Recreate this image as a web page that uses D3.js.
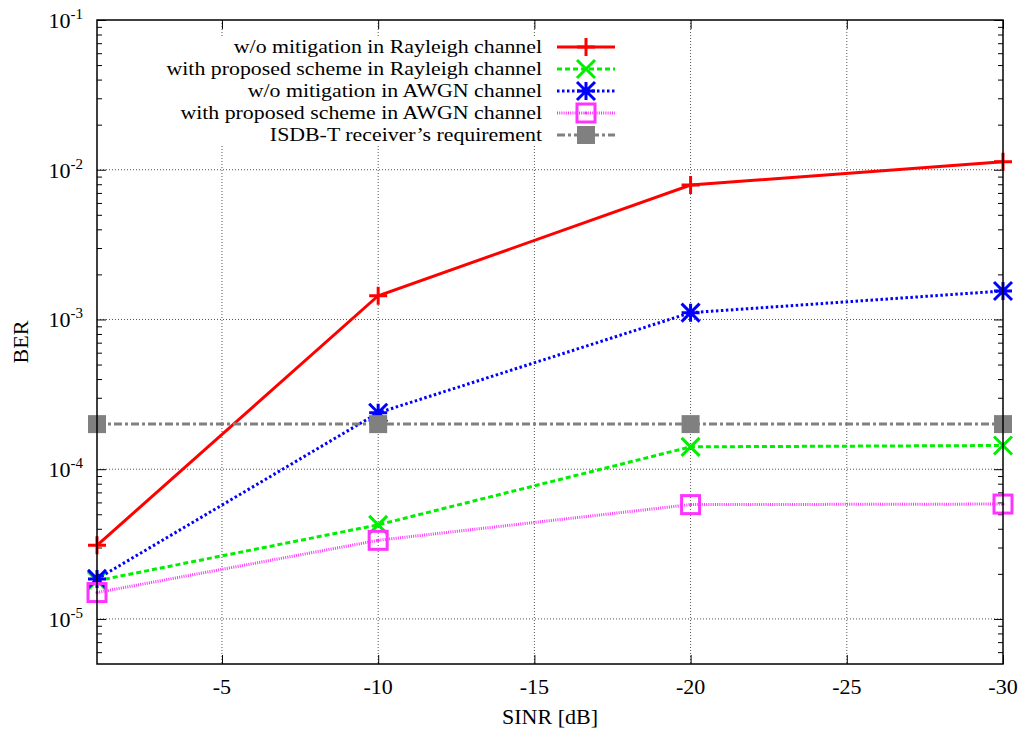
<!DOCTYPE html>
<html>
<head>
<meta charset="utf-8">
<script src="https://cdn.jsdelivr.net/npm/d3@7"></script>
<style>
  body { margin: 0; background: #fff; }
  svg text { font-family: "Liberation Serif", "Times New Roman", serif; fill: #000; }
</style>
</head>
<body>
<script>
// chart data
var sinr = [-1, -10, -20, -30];
var rayleighNoMit = [3.1e-5, 1.44e-3, 7.9e-3, 1.13e-2];
var rayleighProposed = [1.8e-5, 4.25e-5, 1.41e-4, 1.44e-4];
var awgnNoMit = [1.85e-5, 2.38e-4, 1.11e-3, 1.55e-3];
var awgnProposed = [1.5e-5, 3.35e-5, 5.8e-5, 5.85e-5];
var isdbRequirement = [2e-4, 2e-4, 2e-4, 2e-4];

var seriesNames = [
  "w/o mitigation in Rayleigh channel",
  "with proposed scheme in Rayleigh channel",
  "w/o mitigation in AWGN channel",
  "with proposed scheme in AWGN channel",
  "ISDB-T receiver\u2019s requirement"
];
var xTicks = [-5, -10, -15, -20, -25, -30];
var yTickExps = [-5, -4, -3, -2, -1];

// svg area
var svgWidth = 1021;
var svgHeight = 731;
var margin = { top: 20, right: 18, bottom: 67, left: 97 };
var chartWidth = svgWidth - margin.left - margin.right;
var chartHeight = svgHeight - margin.top - margin.bottom;
var serif = "'Liberation Serif', 'Times New Roman', serif";

var svg = d3.select("body")
  .append("svg")
  .attr("width", svgWidth)
  .attr("height", svgHeight);

var chartGroup = svg.append("g")
  .attr("transform", `translate(${margin.left}, ${margin.top})`);

var xScale = d3.scaleLinear().domain([-1, -30]).range([0, chartWidth]);
var yScale = d3.scaleLog().domain([5e-6, 0.1]).range([chartHeight, 0]);

// grid
var gridGroup = chartGroup.append("g");
xTicks.filter(t => t !== -30).forEach(function(t) {
  gridGroup.append("line")
    .attr("x1", xScale(t)).attr("x2", xScale(t))
    .attr("y1", 0).attr("y2", chartHeight)
    .attr("stroke", "#555").attr("stroke-width", 1)
    .attr("stroke-dasharray", "1,2");
});
yTickExps.filter(e => e !== -1).forEach(function(e) {
  gridGroup.append("line")
    .attr("x1", 0).attr("x2", chartWidth)
    .attr("y1", yScale(Math.pow(10, e))).attr("y2", yScale(Math.pow(10, e)))
    .attr("stroke", "#555").attr("stroke-width", 1)
    .attr("stroke-dasharray", "1,2");
});

// axes with inward ticks on every side
var minorTicks = [];
for (var e = -6; e <= -2; e++) {
  for (var m = 2; m <= 9; m++) {
    var v = m * Math.pow(10, e);
    if (v >= 5e-6 && v <= 0.1) minorTicks.push(v);
  }
}
var majorVals = yTickExps.map(e => Math.pow(10, e));

function tickGroup(axis, tx, ty) {
  var g = chartGroup.append("g")
    .attr("transform", `translate(${tx},${ty})`)
    .call(axis.tickFormat(""));
  g.selectAll(".domain").remove();
  g.selectAll("line").attr("stroke", "#000");
  return g;
}
tickGroup(d3.axisLeft(yScale).tickValues(minorTicks).tickSize(-5), 0, 0);
tickGroup(d3.axisRight(yScale).tickValues(minorTicks).tickSize(-5), chartWidth, 0);
tickGroup(d3.axisLeft(yScale).tickValues(majorVals).tickSize(-9), 0, 0);
tickGroup(d3.axisRight(yScale).tickValues(majorVals).tickSize(-9), chartWidth, 0);
tickGroup(d3.axisBottom(xScale).tickValues(xTicks).tickSize(-9), 0, chartHeight);
tickGroup(d3.axisTop(xScale).tickValues(xTicks).tickSize(-9), 0, 0);

// x tick labels
xTicks.forEach(function(t) {
  chartGroup.append("text")
    .attr("x", xScale(t)).attr("y", chartHeight + 30)
    .attr("text-anchor", "middle")
    .attr("font-family", serif)
    .style("font-size", "22px")
    .text(t);
});

// y tick labels 10^e
yTickExps.forEach(function(e) {
  var txt = chartGroup.append("text")
    .attr("x", -14).attr("y", yScale(Math.pow(10, e)) + 8)
    .attr("text-anchor", "end")
    .attr("font-family", serif)
    .style("font-size", "22px");
  txt.append("tspan").text("10");
  txt.append("tspan").attr("dy", -9).style("font-size", "15px").text(e);
});

// axis titles
svg.append("text")
  .attr("x", margin.left + chartWidth / 2).attr("y", 724)
  .attr("text-anchor", "middle")
  .attr("font-family", serif)
  .style("font-size", "22px")
  .text("SINR [dB]");
svg.append("text")
  .attr("transform", `translate(28, ${margin.top + chartHeight / 2}) rotate(-90)`)
  .attr("text-anchor", "middle")
  .attr("font-family", serif)
  .style("font-size", "22px")
  .text("BER");

// marker shapes
function drawMarker(g, type, cx, cy, color) {
  var s = 9;
  if (type === "plus") {
    g.append("path").attr("d", `M${cx - s},${cy}H${cx + s}M${cx},${cy - s}V${cy + s}`)
      .attr("stroke", color).attr("stroke-width", 3).attr("fill", "none");
  } else if (type === "cross") {
    g.append("path").attr("d", `M${cx - s},${cy - s}L${cx + s},${cy + s}M${cx - s},${cy + s}L${cx + s},${cy - s}`)
      .attr("stroke", color).attr("stroke-width", 3).attr("fill", "none");
  } else if (type === "star") {
    g.append("path").attr("d", `M${cx - s},${cy - s}L${cx + s},${cy + s}M${cx - s},${cy + s}L${cx + s},${cy - s}M${cx},${cy - s}V${cy + s}M${cx - s},${cy}H${cx + s}`)
      .attr("stroke", color).attr("stroke-width", 3).attr("fill", "none");
  } else if (type === "square") {
    g.append("rect").attr("x", cx - s).attr("y", cy - s).attr("width", 2 * s).attr("height", 2 * s)
      .attr("stroke", color).attr("stroke-width", 3).attr("fill", "none");
    g.append("circle").attr("cx", cx).attr("cy", cy).attr("r", 1.5).attr("fill", color);
  } else if (type === "filled") {
    g.append("rect").attr("x", cx - s).attr("y", cy - s).attr("width", 2 * s).attr("height", 2 * s)
      .attr("fill", color);
  }
}

var series = [
  { name: seriesNames[0], values: rayleighNoMit, color: "#ff0000", dash: null, width: 3, marker: "plus" },
  { name: seriesNames[1], values: rayleighProposed, color: "#00ee00", dash: "5,3", width: 3, marker: "cross" },
  { name: seriesNames[2], values: awgnNoMit, color: "#0000ff", dash: "2.5,2.5", width: 3, marker: "star" },
  { name: seriesNames[3], values: awgnProposed, color: "#ff33ff", dash: "1,1.2", width: 3, marker: "square" },
  { name: seriesNames[4], values: isdbRequirement, color: "#808080", dash: "8,3,3,3", width: 3, marker: "filled" }
];

// legend background and entries
var legendRight = 542 - margin.left;
var legendRowY = [47, 69, 91, 113, 135].map(y => y - margin.top);
chartGroup.append("rect")
  .attr("x", 170 - margin.left).attr("y", 36 - margin.top)
  .attr("width", 455).attr("height", 110)
  .attr("fill", "#fff");

var drawLine = d3.line()
  .x((d, i) => xScale(sinr[i]))
  .y(d => yScale(d));

series.forEach(function(s, k) {
  var g = chartGroup.append("g");
  g.append("path")
    .attr("d", drawLine(s.values))
    .attr("fill", "none")
    .attr("stroke", s.color)
    .attr("stroke-width", s.width)
    .attr("stroke-dasharray", s.dash);
  s.values.forEach(function(v, i) {
    drawMarker(g, s.marker, xScale(sinr[i]), yScale(v), s.color);
  });

  // legend text is slightly wide in the original, so stretch it horizontally
  var ly = legendRowY[k];
  chartGroup.append("text")
    .attr("transform", `translate(${legendRight},${ly + 6}) scale(1.15,1)`)
    .attr("text-anchor", "end")
    .attr("font-family", serif)
    .style("font-size", "19px")
    .text(s.name);
  chartGroup.append("line")
    .attr("x1", 557 - margin.left).attr("x2", 615 - margin.left)
    .attr("y1", ly).attr("y2", ly)
    .attr("stroke", s.color)
    .attr("stroke-width", s.width)
    .attr("stroke-dasharray", s.dash);
  drawMarker(chartGroup, s.marker, 586 - margin.left, ly, s.color);
});

// border
chartGroup.append("rect")
  .attr("x", 0).attr("y", 0)
  .attr("width", chartWidth).attr("height", chartHeight)
  .attr("fill", "none")
  .attr("stroke", "#000")
  .attr("stroke-width", 1.5);
</script>
</body>
</html>
